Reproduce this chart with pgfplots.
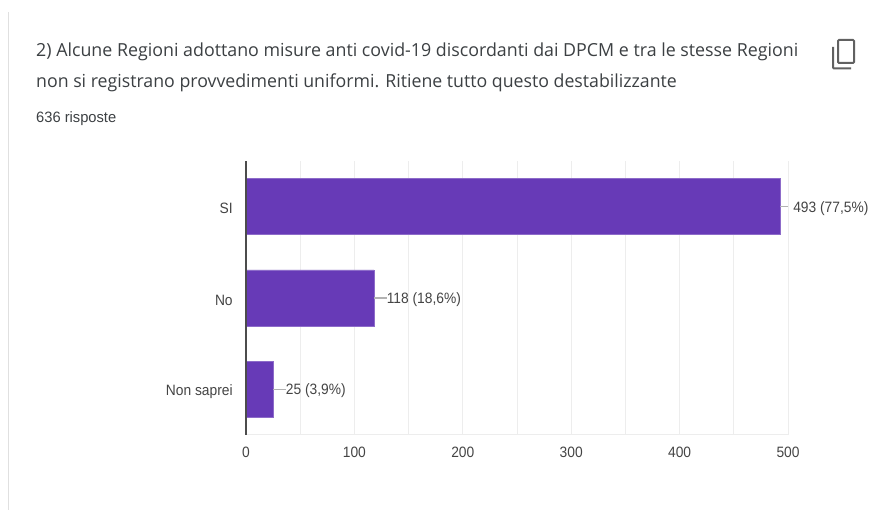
\documentclass[border=0pt]{standalone}
\usepackage{pgfplots}
\pgfplotsset{compat=1.18}
\usepackage{pgfplotstable}
\usepackage{fontspec}
\setmainfont{Open Sans}
\newfontfamily\lab{Liberation Sans}
\definecolor{barp}{HTML}{673AB7}
\definecolor{txt}{HTML}{3C4043}
\definecolor{lab}{HTML}{444444}
\pgfplotstableread[col sep=comma]{
x,y,label
493,2,{493 (77,5\%)}
118,1,{118 (18,6\%)}
25,0,{25 (3,9\%)}
}\bars
\begin{document}
\begin{tikzpicture}[x=1bp,y=1bp]
\path[use as bounding box,fill=white] (0,0) rectangle (877,510);
\draw[color=black!12,line width=1.5bp] (8.5,0) -- (8.5,498);
\node[anchor=base west,inner sep=0,text=txt,xscale=0.99] at (36,453.5) {\fontsize{18bp}{20bp}\selectfont 2) Alcune Regioni adottano misure anti covid-19 discordanti dai DPCM e tra le stesse Regioni};
\node[anchor=base west,inner sep=0,text=txt,xscale=0.985] at (36,422.5) {\fontsize{18bp}{20bp}\selectfont non si registrano provvedimenti uniformi. Ritiene tutto questo destabilizzante};
\node[anchor=base west,inner sep=0,text=txt,xscale=0.98] at (36,387) {\fontsize{15bp}{17bp}\selectfont\lab 636 risposte};
% copy icon
\draw[color=black!62,line width=2bp,rounded corners=1bp] (838,470) rectangle (854,447);
\draw[color=black!62,line width=2bp,rounded corners=1bp] (833,463) -- (833,441.5) -- (851,441.5);
\begin{axis}[
  at={(246bp,75bp)},anchor=south west,
  scale only axis,width=542bp,height=274bp,
  xmin=0,xmax=500,ymin=-0.5,ymax=2.5,
  clip=false,
  axis line style={draw=none},
  xtick={0,100,200,300,400,500},
  minor xtick={50,150,250,350,450},
  ytick={0,1,2},
  yticklabels={Non saprei,No,SI},
  tick style={draw=none},
  minor tick style={draw=none},
  xmajorgrids,xminorgrids,
  grid style={color=black!7,line width=0.8bp},
  minor grid style={color=black!7,line width=0.8bp},
  tick label style={font=\lab\fontsize{15bp}{17bp}\selectfont,text=lab,xscale=0.92},
  xticklabel style={yshift=-9bp},
  yticklabel style={xshift=-11bp,yshift=-2bp},
  /pgf/number format/assume math mode=true,
]
\addplot[draw=black!7,line width=1bp,forget plot] coordinates {(0,-0.5) (500,-0.5)};
\addplot[xbar,bar width=56bp,bar shift=0pt,fill=barp,draw=barp!75!white,line width=0.8bp,
  point meta=explicit symbolic,
  nodes near coords,
  every node near coord/.append style={anchor=west,xshift=12.5bp,yshift=-1.5bp,text=lab,font=\lab\fontsize{15bp}{17bp}\selectfont,xscale=0.92,inner sep=0pt},
] table[x=x,y=y,meta=label,col sep=comma] {\bars};
\addplot[color=black!30,line width=1.2bp,forget plot] coordinates {(493,2) (500,2)};
\addplot[color=black!30,line width=1.2bp,forget plot] coordinates {(118,1) (130,1)};
\addplot[color=black!30,line width=1.2bp,forget plot] coordinates {(25,0) (37,0)};
\addplot[color=black!70,line width=1.2bp,forget plot] coordinates {(0,-0.5) (0,2.5)};
\end{axis}
\end{tikzpicture}
\end{document}
